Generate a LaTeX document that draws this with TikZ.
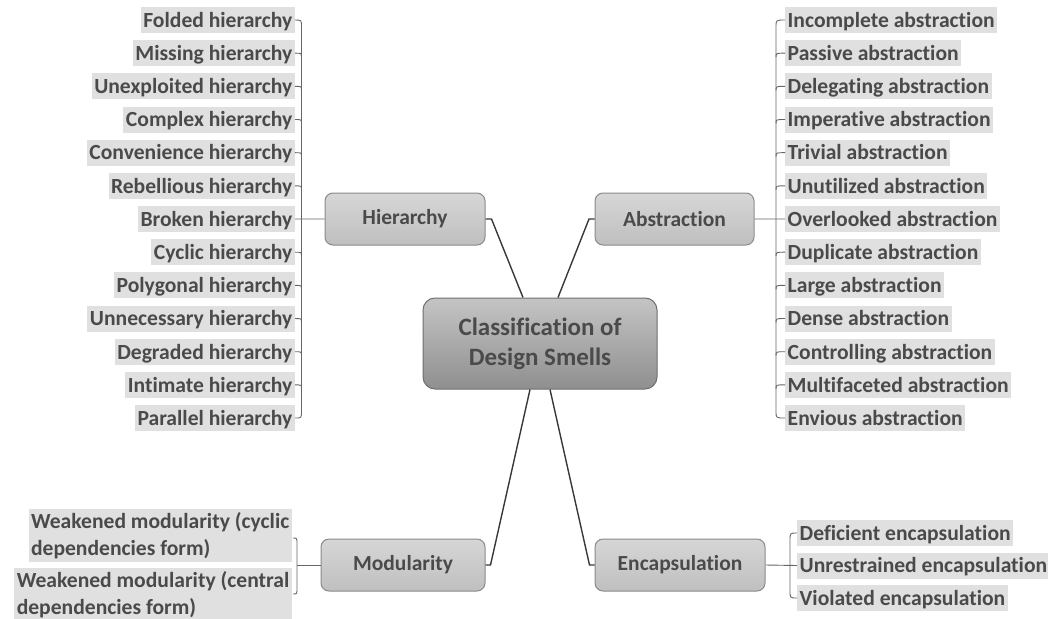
\documentclass[tikz,border=0pt]{standalone}
\usepackage{fontspec}
\setmainfont{Carlito}[Ligatures=NoCommon]
\usetikzlibrary{calc}

\definecolor{ink}{HTML}{4A4A4A}
\definecolor{leaffill}{HTML}{E0E0E0}
\definecolor{boxline}{HTML}{8A8A8A}
\definecolor{rootline}{HTML}{6E6E6E}
\definecolor{wire}{HTML}{383838}
\definecolor{brace}{HTML}{666666}
\colorlet{topiclight}{black!16}
\colorlet{topicdark}{black!25}
\colorlet{rootlight}{black!23}
\colorlet{rootdark}{black!44}

\tikzset{
  leaf/.style={fill=leaffill, text=ink, inner xsep=2.5pt, inner ysep=3pt,
    text height=17.3pt, text depth=2.7pt,
    font=\fontsize{21.6}{27}\selectfont\bfseries},
  leaf2/.style={fill=leaffill, text=ink, inner xsep=2.5pt, inner ysep=3pt,
    align=left, font=\fontsize{21.6}{27}\selectfont\bfseries},
  topic/.style={draw=boxline, line width=1pt, rounded corners=8pt,
    top color=topiclight, bottom color=topicdark,
    minimum width=160pt, minimum height=52pt, text=ink,
    font=\fontsize{21.5}{25}\selectfont\bfseries},
  rootbox/.style={draw=rootline, line width=1pt, rounded corners=12pt,
    top color=rootlight, bottom color=rootdark,
    minimum width=234pt, minimum height=91pt, text=ink, align=center,
    font=\fontsize{25}{30}\selectfont\bfseries},
  branch/.style={draw=wire, line width=1.4pt},
  brk/.style={draw=brace, line width=0.9pt},
}

\begin{document}
\begin{tikzpicture}[x=1pt,y=-1pt]
\useasboundingbox (0,0) rectangle (1048,618);
\clip (0,0) rectangle (1048,618);

% central topic and the four categories
\node[rootbox] (root) at (540,343.5) {Classification of\\Design Smells};
\node[topic] (hier) at (405,219) {Hierarchy};
\node[topic, minimum width=159pt] (abst) at (674.5,219) {Abstraction};
\node[topic, minimum width=164pt] (modu) at (403,565) {Modularity};
\node[topic, minimum width=170pt] (enca) at (680,565) {Encapsulation};

% smells of each category
\foreach \t [count=\i] in {Folded hierarchy, Missing hierarchy,
    Unexploited hierarchy, Complex hierarchy, Convenience hierarchy,
    Rebellious hierarchy, Broken hierarchy, Cyclic hierarchy,
    Polygonal hierarchy, Unnecessary hierarchy, Degraded hierarchy,
    Intimate hierarchy, Parallel hierarchy}
  \node[leaf, anchor=east] (h\i) at (295,{20+33.17*(\i-1)}) {\t};

\foreach \t [count=\i] in {Incomplete abstraction, Passive abstraction,
    Delegating abstraction, Imperative abstraction, Trivial abstraction,
    Unutilized abstraction, Overlooked abstraction, Duplicate abstraction,
    Large abstraction, Dense abstraction, Controlling abstraction,
    Multifaceted abstraction, Envious abstraction}
  \node[leaf, anchor=west] (a\i) at (785,{20+33.17*(\i-1)}) {\t};

\foreach \t [count=\i] in {Deficient encapsulation,
    Unrestrained encapsulation, Violated encapsulation}
  \node[leaf, anchor=west] (e\i) at (797,{533+32.5*(\i-1)}) {\t};

\node[leaf2, anchor=east] (m1) at (292,535.5)
  {Weakened modularity (cyclic\\dependencies form)};
\node[leaf2, anchor=east] (m2) at (292,594.5)
  {Weakened modularity (central\\dependencies form)};

% branches from the central topic
\draw[branch] ($(root.north)+(-17,0)$) -- ($(hier.east)+(6,0)$) -- (hier.east);
\draw[branch] ($(root.north)+(18,0)$) -- ($(abst.west)+(-5.5,0)$) -- (abst.west);
\draw[branch] ($(root.south)+(-10,0)$) -- ($(modu.east)+(5,0)$) -- (modu.east);
\draw[branch] ($(root.south)+(10,0)$) -- ($(enca.west)+(-5,0)$) -- (enca.west);

% hierarchy brace
\coordinate (hs1) at (301.5,27);
\coordinate (hs2) at (301.5,411);
\draw[brk] (h1.east) .. controls (hs1 |- h1.east) .. (hs1) -- (hs2)
  .. controls (hs2 |- h13.east) .. (h13.east);
\foreach \i in {2,...,6,8,9,...,12}
  \draw[brk] (h\i.east) .. controls (hs1 |- h\i.east) .. ($(hs1 |- h\i.east)+(0,4)$);
\draw[brk] (h7.east) -- (hier.west);

% abstraction brace
\coordinate (as1) at (776,27);
\coordinate (as2) at (776,411);
\draw[brk] (a1.west) .. controls (as1 |- a1.west) .. (as1) -- (as2)
  .. controls (as2 |- a13.west) .. (a13.west);
\foreach \i in {2,...,6,8,9,...,12}
  \draw[brk] (a\i.west) .. controls (as1 |- a\i.west) .. ($(as1 |- a\i.west)+(0,4)$);
\draw[brk] (abst.east) -- (a7.west);

% encapsulation brace
\coordinate (es1) at (790,540);
\coordinate (es2) at (790,591);
\draw[brk] (e1.west) .. controls (es1 |- e1.west) .. (es1) -- (es2)
  .. controls (es2 |- e3.west) .. (e3.west);
\draw[brk] (enca.east) -- (e2.west);

% modularity brace
\coordinate (mt1) at (293,538);
\coordinate (mt2) at (293,594);
\coordinate (ms1) at (297,544);
\coordinate (ms2) at (297,588);
\draw[brk] (mt1) .. controls (ms1 |- mt1) .. (ms1) -- (ms2)
  .. controls (ms2 |- mt2) .. (mt2);
\draw[brk] (modu.west) -- (modu.west -| ms1);
\end{tikzpicture}
\end{document}
